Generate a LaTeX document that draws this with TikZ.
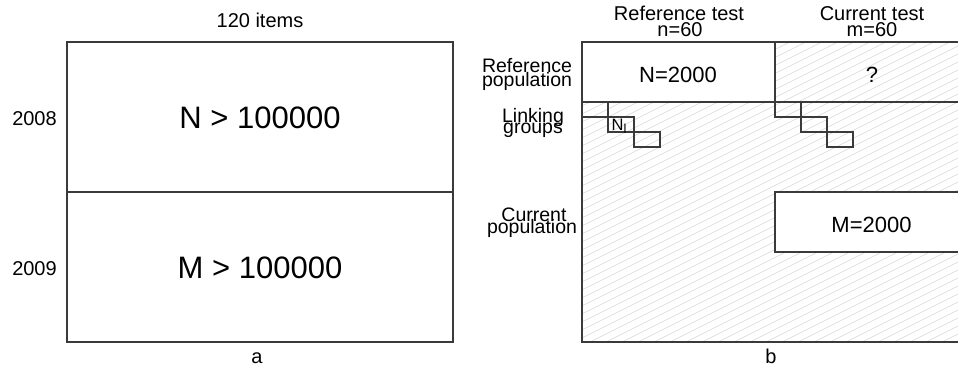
\documentclass[tikz,border=0pt]{standalone}
\usepackage{fontspec}
\setmainfont{Liberation Sans}
\definecolor{lc}{HTML}{3A3A3A}
\definecolor{hc}{HTML}{D6D6D6}
\begin{document}
\begin{tikzpicture}[x=1pt,y=-1pt,
  frame/.style={draw=lc,line width=1.3pt},
  stair/.style={draw=lc,line width=1.1pt},
  hatch/.style={draw=hc,line width=0.6pt},
  txt/.style={inner sep=0pt,anchor=base,text=black},
  fa/.style={font=\fontsize{20}{20}\selectfont},
  frow/.style={font=\fontsize{19.5}{19.5}\selectfont},
  fbig/.style={font=\fontsize{31}{31}\selectfont},
  fmid/.style={font=\fontsize{22}{22}\selectfont}]
\clip (0,0) rectangle (958,369);
\fill[white] (0,0) rectangle (958,369);

% ---------------- panel a ----------------
\draw[frame] (67,42) rectangle (453,342);
\draw[frame] (67,192) -- (453,192);
\node[txt,fa] (items) at (260,28) {120 items};
\node[txt,fbig] (nbig) at (260,128) {N > 100000};
\node[txt,fbig] (mbig) at (260,278) {M > 100000};
\node[txt,fa] (y8) at (34.5,125) {2008};
\node[txt,fa] (y9) at (34.5,275) {2009};
\node[txt,fa] (la) at (257,363) {a};

% ---------------- panel b ----------------
\begin{scope}
  \clip (582,42) rectangle (958,342);
  \foreach \k in {0,...,64} {
    \draw[hatch] (582,{42+\k*8}) -- ++(420,-210);
  }
\end{scope}
\fill[white] (582,42) rectangle (775,102);
\fill[white] (775,192) rectangle (962,252);

\draw[frame] (962,42) -- (582,42) -- (582,342) -- (962,342);
\draw[frame] (775,42) -- (775,102);
\draw[frame] (582,102) -- (962,102);
\draw[frame] (962,192) -- (775,192) -- (775,252) -- (962,252);

% staircases
\draw[stair] (582,102) rectangle (608,117);
\draw[stair] (608,117) rectangle (634,132);
\draw[stair] (634,132) rectangle (660,147);
\draw[stair] (775,102) rectangle (801,117);
\draw[stair] (801,117) rectangle (827,132);
\draw[stair] (827,132) rectangle (853,147);

\node[inner sep=0pt,anchor=base west,font=\fontsize{16.5}{16.5}\selectfont] (nl) at (611.5,130)
  {N\raisebox{-3pt}{\fontsize{13}{13}\selectfont l}};

% headers
\node[txt,fa] (rt) at (679,21) {Reference test};
\node[txt,fa] (rn) at (680,37) {n=60};
\node[txt,fa] (ct) at (872,21) {Current test};
\node[txt,fa] (cm) at (872,37) {m=60};

% row labels
\node[txt,frow] (rp1) at (527,73) {Reference};
\node[txt,frow] (rp2) at (527,86) {population};
\node[txt,frow] (lg1) at (533,122) {Linking};
\node[txt,frow] (lg2) at (533,133.5) {groups};
\node[txt,frow] (cp1) at (534,221.5) {Current};
\node[txt,frow] (cp2) at (532,233) {population};

% cell texts
\node[txt,fmid] (nref) at (678,82) {N=2000};
\node[txt,fmid] (q) at (872,82) {?};
\node[txt,fmid] (mcur) at (871.5,232) {M=2000};
\node[txt,fa] (lb) at (771,363) {b};
\end{tikzpicture}
\end{document}
